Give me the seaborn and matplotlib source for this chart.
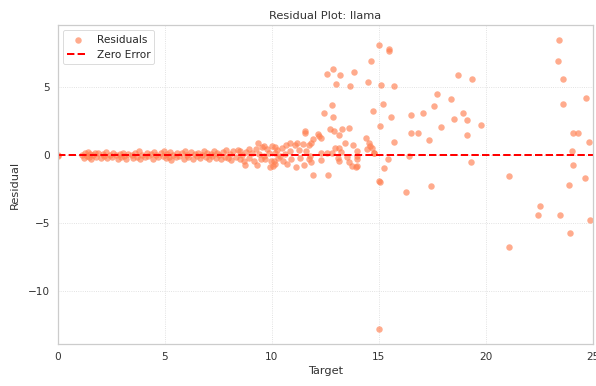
import matplotlib
matplotlib.use("Agg")
import matplotlib.pyplot as plt
import seaborn as sns
import pandas as pd

# Target values and model residuals (target - prediction) for the llama model
target = [
    0.0, 0.03,
    1.15, 1.2, 1.25, 1.35, 1.4, 1.45, 1.5, 1.55, 1.65, 1.75, 1.8, 1.9, 2.0,
    2.1, 2.15, 2.25, 2.3, 2.45, 2.55, 2.6, 2.7, 2.8, 2.9, 2.95,
    3.05, 3.1, 3.2, 3.3, 3.45, 3.5, 3.6, 3.7, 3.8, 3.85, 3.95,
    4.05, 4.15, 4.2, 4.35, 4.45, 4.5, 4.6, 4.7, 4.8, 4.9, 4.95,
    5.05, 5.1, 5.2, 5.25, 5.3, 5.4, 5.5, 5.55, 5.65, 5.8, 5.9, 5.95,
    6.05, 6.1, 6.2, 6.3, 6.4, 6.5, 6.55, 6.65, 6.75, 6.85, 6.9, 6.95,
    7.05, 7.15, 7.2, 7.3, 7.4, 7.45, 7.55, 7.6, 7.7, 7.8, 7.85, 7.95,
    8.05, 8.1, 8.2, 8.3, 8.4, 8.5, 8.52, 8.6, 8.7, 8.75, 8.8, 8.91, 8.95, 9.07,
    9.15, 9.25, 9.3, 9.33, 9.4, 9.5, 9.55, 9.61, 9.61, 9.69, 9.77, 9.85, 9.89, 9.95, 10.0,
    10.07, 10.11, 10.15, 10.15, 10.15, 10.25, 10.3, 10.39, 10.45, 10.51, 10.6, 10.67,
    10.7, 10.85, 10.85, 10.9, 11.09, 11.12, 11.16,
    11.25, 11.3, 11.47, 11.5, 11.53, 11.55, 11.6, 11.71, 11.74, 11.78, 11.82, 11.82,
    11.91, 11.94,
    12.16, 12.19, 12.28, 12.28, 12.31, 12.42, 12.57, 12.59, 12.61, 12.7, 12.8, 12.81,
    12.85, 12.85, 12.9, 12.95,
    13.0, 13.11, 13.14, 13.15, 13.15, 13.19, 13.22, 13.28, 13.42, 13.5, 13.62, 13.62,
    13.65, 13.73, 13.78, 13.84, 13.93, 13.96, 13.96, 13.99, 13.99,
    14.4, 14.46, 14.5, 14.55, 14.58, 14.65, 14.66, 14.71, 14.77, 14.79, 14.98,
    15.0, 15.02, 15.05, 15.05, 15.08,
    15.18, 15.24, 15.42, 15.45, 15.48, 15.58, 15.72, 15.72,
    16.28, 16.4, 16.51, 16.51, 16.84, 17.04, 17.33, 17.45, 17.55, 17.71, 17.92,
    18.35, 18.5, 18.68, 18.92, 19.13, 19.13, 19.3, 19.37, 19.78,
    21.06, 21.06, 22.42, 22.53,
    23.35, 23.39, 23.46, 23.61, 23.61, 23.9, 23.93, 24.0, 24.05, 24.05, 24.28,
    24.64, 24.67, 24.83, 24.86,
]

residual = [
    0.02, -0.05,
    0.05, -0.2, 0.2, -0.05, 0.25, -0.15, 0.1, -0.25, 0.05, 0.2, -0.1, 0.15, -0.2,
    0.1, -0.05, 0.25, -0.2, 0.05, -0.15, 0.2, 0.0, -0.25, 0.1, -0.1,
    0.2, -0.05, -0.25, 0.1, 0.0, -0.2, 0.15, -0.1, 0.3, -0.3, 0.05,
    -0.15, 0.2, -0.05, 0.1, -0.25, 0.25, 0.0, -0.15, 0.15, -0.05, 0.3,
    -0.2, 0.1, -0.1, 0.25, -0.35, 0.05, -0.15, 0.2, -0.05, 0.15, -0.25, 0.3,
    0.05, -0.15, 0.25, -0.3, 0.1, -0.05, 0.2, -0.2, 0.05, 0.3, -0.1, 0.15,
    -0.25, 0.1, -0.05, 0.3, -0.2, 0.15, 0.0, -0.3, 0.25, -0.1, 0.35, -0.2,
    0.1, -0.35, 0.3, -0.1, 0.4, -0.3, 0.31, 0.05, -0.45, -0.71, 0.25, 0.49, -0.2, 0.2,
    -0.4, 0.45, -0.71, 0.88, 0.1, -0.3, 0.6, 0.68, -0.05, -0.29, 0.44, 0.15, -0.9, -0.45, 0.68,
    -0.78, -0.42, 0.2, 0.61, -0.66, 0.35, -0.2, -0.05, 0.5, -0.42, 0.1, 0.75,
    -0.66, 0.93, 0.3, -0.25, 0.75, -0.86, 0.93,
    0.4, -0.2, 0.8, -0.71, 1.76, 1.65, 0.3, -0.29, 0.75, -0.05, 0.93, -0.46,
    -1.47, 1.17,
    1.59, 1.41, 1.3, -0.34, 0.2, 3.08, 5.98, 0.2, -1.44, 1.9, 0.2, 3.69,
    6.35, 2.83, 1.78, 0.55,
    5.2, -0.17, -0.42, 1.52, 0.56, 5.93, 0.24, 1.96, 0.88, -0.1, 1.98, -0.53,
    5.08, -0.78, 0.75, 6.13, -0.86, -0.78, -0.29, -0.05, 0.31,
    1.25, 0.49, 5.37, 0.9, 0.68, 6.94, 0.56, 3.25, 0.2, 0.15, -1.88,
    -12.8, 8.13, 2.17, -1.93, 5.15,
    3.74, -0.93, -0.27, 7.8, 7.68, 2.78, 5.1, 1.0,
    -2.69, -0.05, 2.98, 1.66, 1.66, 3.08, 1.1, -2.29, 3.64, 4.5, 2.06,
    4.15, 2.64, 5.87, 3.09, 2.58, 1.47, -0.46, 5.57, 2.22,
    -1.56, -6.76, -4.37, -3.76,
    6.94, 8.5, -4.42, 5.57, 3.74, -2.17, -5.74, 0.29, 1.66, -0.71, 1.61,
    -1.7, 4.2, 1.0, -4.74,
]

legend_labels = ["Residuals", "Zero Error"]
x_ticks = [0, 5, 10, 15, 20, 25]
y_ticks = [-10, -5, 0, 5]

df = pd.DataFrame({"Target": target, "Residual": residual})

sns.set_theme(style="whitegrid", context="notebook")
plt.rcParams["font.family"] = ["DejaVu Sans"]

fig, ax = plt.subplots(figsize=(596 / 60, 386 / 60), dpi=60)
fig.subplots_adjust(left=0.097, right=0.995, top=0.935, bottom=0.109)

sns.scatterplot(data=df, x="Target", y="Residual", ax=ax, color="coral",
                alpha=0.65, s=60, linewidth=0, label=legend_labels[0])
ax.axhline(0, color="red", linestyle="--", linewidth=2.4, label=legend_labels[1])

ax.set_xlim(0, 25)
ax.set_xticks(x_ticks)
ax.set_yticks(y_ticks)
ax.grid(True, linestyle=":", color="#d9d9d9", linewidth=1)
for sp in ax.spines.values():
    sp.set_color("#cccccc")
    sp.set_linewidth(1.5)

ax.set_title("Residual Plot: llama", color="#333333", fontsize=13.7, pad=7)
ax.set_xlabel("Target", color="#333333", fontsize=13.7, labelpad=5)
ax.set_ylabel("Residual", color="#333333", fontsize=13.7, labelpad=10)
ax.tick_params(colors="#333333", labelsize=12.6)
ax.legend(loc="upper left", frameon=True, fontsize=12.6)

fig.savefig("out.png", dpi=60)
